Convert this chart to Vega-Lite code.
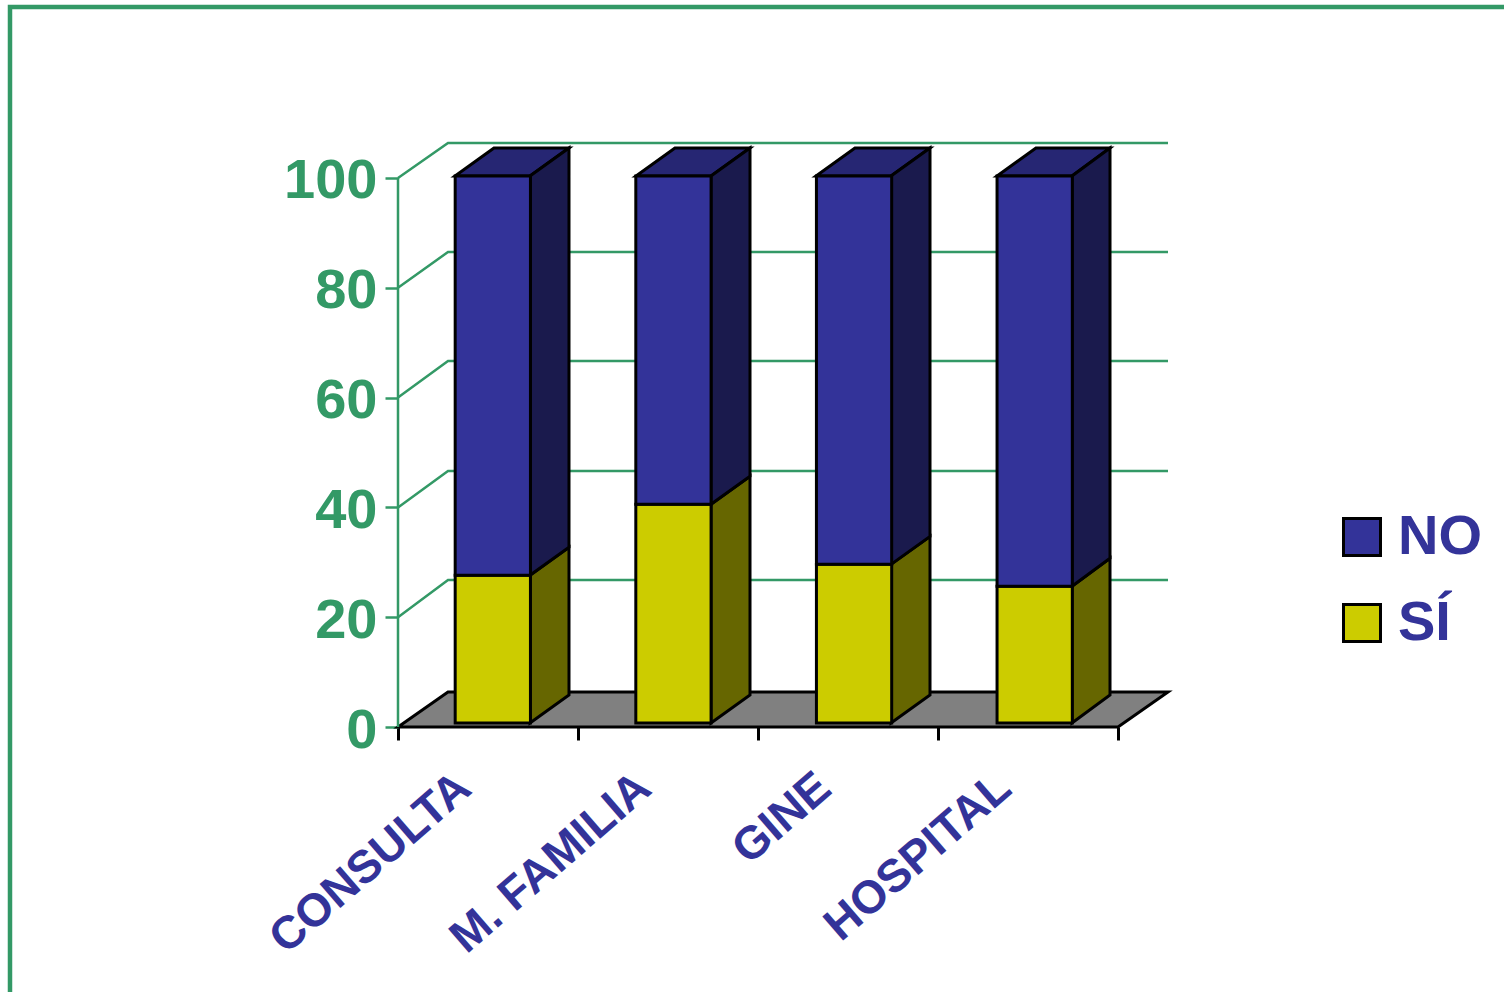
{"$schema":"https://vega.github.io/schema/vega-lite/v6.json","width":770,"height":584,"autosize":{"type":"none"},"padding":{"left":398,"top":143,"right":336,"bottom":265},"background":"#ffffff","view":{"stroke":null},"datasets":{"bars":[{"cat":"CONSULTA","series":"SÍ","value":27},{"cat":"CONSULTA","series":"NO","value":73},{"cat":"M. FAMILIA","series":"SÍ","value":40},{"cat":"M. FAMILIA","series":"NO","value":60},{"cat":"GINE","series":"SÍ","value":29},{"cat":"GINE","series":"NO","value":71},{"cat":"HOSPITAL","series":"SÍ","value":25},{"cat":"HOSPITAL","series":"NO","value":75}],"sides":[{"cat":"CONSULTA","series":"SÍ","x":0.7333,"lo":0,"hi":27},{"cat":"CONSULTA","series":"SÍ","x":0.95,"lo":5.12,"hi":32.12},{"cat":"CONSULTA","series":"NO","x":0.7333,"lo":27,"hi":100},{"cat":"CONSULTA","series":"NO","x":0.95,"lo":32.12,"hi":105.12},{"cat":"M. FAMILIA","series":"SÍ","x":1.7389,"lo":0,"hi":40},{"cat":"M. FAMILIA","series":"SÍ","x":1.9556,"lo":5.12,"hi":45.12},{"cat":"M. FAMILIA","series":"NO","x":1.7389,"lo":40,"hi":100},{"cat":"M. FAMILIA","series":"NO","x":1.9556,"lo":45.12,"hi":105.12},{"cat":"GINE","series":"SÍ","x":2.7389,"lo":0,"hi":29},{"cat":"GINE","series":"SÍ","x":2.9556,"lo":5.12,"hi":34.12},{"cat":"GINE","series":"NO","x":2.7389,"lo":29,"hi":100},{"cat":"GINE","series":"NO","x":2.9556,"lo":34.12,"hi":105.12},{"cat":"HOSPITAL","series":"SÍ","x":3.7444,"lo":0,"hi":25},{"cat":"HOSPITAL","series":"SÍ","x":3.9556,"lo":5.12,"hi":30.12},{"cat":"HOSPITAL","series":"NO","x":3.7444,"lo":25,"hi":100},{"cat":"HOSPITAL","series":"NO","x":3.9556,"lo":30.12,"hi":105.12}],"tops":[{"cat":"CONSULTA","y":100,"x":0.3167,"x2":0.7333},{"cat":"CONSULTA","y":105.12,"x":0.5333,"x2":0.95},{"cat":"M. FAMILIA","y":100,"x":1.3222,"x2":1.7389},{"cat":"M. FAMILIA","y":105.12,"x":1.5389,"x2":1.9556},{"cat":"GINE","y":100,"x":2.3222,"x2":2.7389},{"cat":"GINE","y":105.12,"x":2.5389,"x2":2.9556},{"cat":"HOSPITAL","y":100,"x":3.3278,"x2":3.7444},{"cat":"HOSPITAL","y":105.12,"x":3.5444,"x2":3.9556}],"floor":[{"y":0,"x":0,"x2":4},{"y":6.375,"x":0.2778,"x2":4.2778}],"grid":[{"line":"wall","step":1,"x":0,"y":0},{"line":"wall","step":2,"x":0,"y":100},{"line":"20","step":1,"x":0,"y":20},{"line":"20","step":2,"x":0.2778,"y":26.78},{"line":"20","step":3,"x":4.2778,"y":26.78},{"line":"40","step":1,"x":0,"y":40},{"line":"40","step":2,"x":0.2778,"y":46.63},{"line":"40","step":3,"x":4.2778,"y":46.63},{"line":"60","step":1,"x":0,"y":60},{"line":"60","step":2,"x":0.2778,"y":66.67},{"line":"60","step":3,"x":4.2778,"y":66.67},{"line":"80","step":1,"x":0,"y":80},{"line":"80","step":2,"x":0.2778,"y":86.52},{"line":"80","step":3,"x":4.2778,"y":86.52},{"line":"100","step":1,"x":0,"y":100},{"line":"100","step":2,"x":0.2778,"y":106.375},{"line":"100","step":3,"x":4.2778,"y":106.375}],"frame":[{"step":1,"x":-2.1556,"y":-48.3},{"step":2,"x":-2.1556,"y":131.15},{"step":3,"x":6.15,"y":131.15}]},"resolve":{"scale":{"x":"independent","y":"independent","fill":"independent"}},"layer":[{"data":{"name":"floor"},"mark":{"type":"area","orient":"horizontal","fill":"#808080","stroke":"#000000","strokeWidth":3},"encoding":{"y":{"field":"y","type":"quantitative","scale":{"domain":[0,106.375],"nice":false,"zero":false},"axis":{"title":null,"values":[0,20,40,60,80,100],"domain":false,"grid":false,"tickColor":"#339966","tickSize":13,"tickWidth":2.5,"labelColor":"#339966","labelFont":"Liberation Sans","labelFontWeight":"bold","labelFontSize":56,"labelPadding":8,"labelBaseline":"middle","labelOffset":3}},"x":{"field":"x","type":"quantitative","scale":{"domain":[0,4.2778],"nice":false,"zero":false},"axis":{"title":null,"values":[0,0.5,1,1.5,2,2.5,3,3.5,4],"domain":false,"grid":false,"tickColor":"#000000","tickWidth":3,"tickSize":13,"tickOpacity":{"condition":{"test":"datum.value % 1 == 0","value":1},"value":0},"labelExpr":"datum.value % 1 == 0.5 ? ['CONSULTA','M. FAMILIA','GINE','HOSPITAL'][floor(datum.value)] : ''","labelColor":"#333399","labelFont":"Liberation Sans","labelFontWeight":"bold","labelFontSize":46,"labelAngle":-41,"labelAlign":"right","labelBaseline":"middle","labelPadding":41,"labelOffset":-24,"labelOverlap":false,"labelBound":false,"labelFlush":false,"labelLimit":0}},"x2":{"field":"x2"}}},{"data":{"name":"grid"},"mark":{"type":"line","stroke":"#339966","strokeWidth":2.5},"encoding":{"x":{"field":"x","type":"quantitative","scale":{"domain":[0,4.2778],"nice":false,"zero":false},"axis":null},"y":{"field":"y","type":"quantitative","scale":{"domain":[0,106.375],"nice":false,"zero":false},"axis":null},"detail":{"field":"line"},"order":{"field":"step"}}},{"data":{"name":"frame"},"mark":{"type":"line","stroke":"#339966","strokeWidth":4.5,"clip":false},"encoding":{"x":{"field":"x","type":"quantitative","scale":{"domain":[0,4.2778],"nice":false,"zero":false},"axis":null},"y":{"field":"y","type":"quantitative","scale":{"domain":[0,106.375],"nice":false,"zero":false},"axis":null},"order":{"field":"step"}}},{"data":{"name":"tops"},"mark":{"type":"area","orient":"horizontal","fill":"#262673","stroke":"#000000","strokeWidth":3},"encoding":{"y":{"field":"y","type":"quantitative","scale":{"domain":[-0.731,106.03],"nice":false,"zero":false},"axis":null},"x":{"field":"x","type":"quantitative","scale":{"domain":[0,4.2778],"nice":false,"zero":false},"axis":null},"x2":{"field":"x2"},"detail":{"field":"cat"}}},{"data":{"name":"sides"},"mark":{"type":"area","stroke":"#000000","strokeWidth":3},"encoding":{"x":{"field":"x","type":"quantitative","scale":{"domain":[0,4.2778],"nice":false,"zero":false},"axis":null},"y":{"field":"lo","type":"quantitative","stack":null,"scale":{"domain":[-0.731,106.03],"nice":false,"zero":false},"axis":null},"y2":{"field":"hi"},"fill":{"field":"series","type":"nominal","scale":{"domain":["NO","SÍ"],"range":["#1a1a4d","#666600"]},"legend":null},"detail":{"field":"cat"}}},{"data":{"name":"bars"},"mark":{"type":"bar","stroke":"#000000","strokeWidth":3},"encoding":{"x":{"field":"cat","type":"nominal","sort":null,"scale":{"domain":["CONSULTA","M. FAMILIA","GINE","HOSPITAL"],"range":[4.5,727],"paddingInner":0.5833,"paddingOuter":0.2917},"axis":null},"y":{"field":"value","type":"quantitative","stack":"zero","scale":{"domain":[-0.731,106.03],"nice":false,"zero":false},"axis":null},"fill":{"field":"series","type":"nominal","scale":{"domain":["NO","SÍ"],"range":["#333399","#cccc00"]},"legend":{"title":null,"orient":"none","legendX":936,"legendY":366,"padding":0,"symbolType":"square","symbolSize":1369,"symbolStrokeColor":"#000000","symbolStrokeWidth":3,"symbolOpacity":1,"labelColor":"#333399","labelFont":"Liberation Sans","labelFontWeight":"bold","labelFontSize":56,"labelOffset":8,"rowPadding":30,"labelLimit":0}}}}],"config":{"style":{"cell":{"stroke":null}}}}
